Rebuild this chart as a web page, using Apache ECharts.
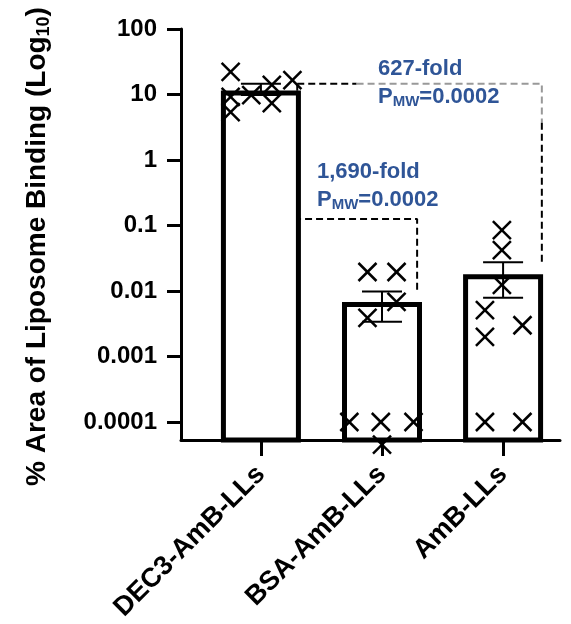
<!DOCTYPE html>
<html>
<head>
<meta charset="utf-8">
<script src="https://cdn.jsdelivr.net/npm/echarts@6/dist/echarts.min.js"></script>
<style>
html, body { margin: 0; padding: 0; background: #fff; }
#chart { width: 571px; height: 624px; }
</style>
</head>
<body>
<div id="chart"></div>
<script>
// 数据
var categories = ['DEC3-AmB-LLs', 'BSA-AmB-LLs', 'AmB-LLs'];
var means = [10.5, 0.0062, 0.0165];
var errLow = [9.8, 0.0034, 0.0079];
var errHigh = [14.6, 0.0098, 0.0274];

var dec3Values = [22.1, 9.2, 5.4, 9.8, 14.0, 7.4, 16.6];
var dec3Jitter = [-0.25, -0.25, -0.25, -0.08, 0.09, 0.09, 0.26];
var bsaValues = [0.0195, 0.0195, 0.0068, 0.0039, 0.0001, 0.0001, 0.0001, 0.000045];
var bsaJitter = [-0.12, 0.12, 0.12, -0.12, -0.27, -0.01, 0.26, 0.0];
var ambValues = [0.085, 0.042, 0.0124, 0.0051, 0.0030, 0.0020, 0.0001, 0.0001];
var ambJitter = [-0.01, -0.01, -0.01, -0.15, 0.16, -0.15, -0.15, 0.16];

var yTicks = [0.0001, 0.001, 0.01, 0.1, 1, 10, 100];
var yTickLabels = ['0.0001', '0.001', '0.01', '0.1', '1', '10', '100'];
var yMin = 0.0000531;

// 比较括号 (x 为类别序号, y 为数值)
var bracketTopBlack = [[0.30, 14.6], [0.79, 14.6]];
var bracketTopGrey = [[0.79, 14.6], [2.32, 14.6], [2.32, 3.7]];
var bracketTopRight = [[2.32, 3.7], [2.32, 0.0274]];
var bracketLow = [[0.30, 14.6], [0.30, 0.126], [1.29, 0.126], [1.29, 0.0098]];

var blue = '#2f5597';
var font = '"Liberation Sans", Arial, sans-serif';

var points = [];
[[dec3Values, dec3Jitter], [bsaValues, bsaJitter], [ambValues, ambJitter]].forEach(function (g, i) {
	g[0].forEach(function (v, k) {
		points.push([i + g[1][k], v]);
	});
});

function tickLabel(v) {
	var best = 0;
	for (var i = 1; i < yTicks.length; i++) {
		if (Math.abs(Math.log10(yTicks[i]) - Math.log10(v)) < Math.abs(Math.log10(yTicks[best]) - Math.log10(v))) best = i;
	}
	return yTickLabels[best];
}

function dashed(data, color) {
	return {
		type: 'line',
		data: data,
		showSymbol: false,
		silent: true,
		z: 5,
		lineStyle: { color: color, width: 2, type: [7, 4] }
	};
}

var myChart = echarts.init(document.getElementById('chart'));

var option = {
	animation: false,
	grid: { left: 181, right: 11, top: 29, bottom: 184 },
	xAxis: {
		type: 'value',
		min: -0.66,
		max: 2.47,
		splitLine: { show: false },
		axisLine: { show: true, onZero: false, lineStyle: { color: '#000', width: 3 } },
		axisTick: { show: true, length: 16, lineStyle: { color: '#000', width: 3 }, customValues: [0, 1, 2] },
		axisLabel: {
			customValues: [0, 1, 2],
			rotate: 45,
			margin: 30,
			color: '#000',
			fontSize: 27,
			fontWeight: 'bold',
			fontFamily: font,
			formatter: function (v) { return categories[Math.round(v)]; }
		}
	},
	yAxis: {
		type: 'log',
		logBase: 10,
		min: yMin,
		max: 100,
		splitLine: { show: false },
		axisLine: { show: true, onZero: false, lineStyle: { color: '#000', width: 3 } },
		axisTick: { show: true, length: 14, lineStyle: { color: '#000', width: 3 }, customValues: yTicks },
		axisLabel: {
			customValues: yTicks,
			margin: 24,
			color: '#000',
			fontSize: 24,
			fontWeight: 'bold',
			fontFamily: font,
			formatter: tickLabel
		},
		name: '{a|% Area of Liposome Binding (Log}{s|10}{a|)}',
		nameLocation: 'middle',
		nameRotate: 90,
		nameGap: 128,
		nameTextStyle: {
			padding: [0, 24, 0, 0],
			rich: {
				a: { fontSize: 28, fontWeight: 'bold', fontFamily: font, color: '#000', lineHeight: 32 },
				s: { fontSize: 18, fontWeight: 'bold', fontFamily: font, color: '#000', verticalAlign: 'bottom', lineHeight: 26 }
			}
		}
	},
	graphic: [
		{ type: 'text', left: 378, top: 58, style: { text: '627-fold', fill: blue, font: 'bold 22px ' + font } },
		{ type: 'text', left: 378, top: 86, style: {
			text: '{p|P}{s|MW}{p|=0.0002}',
			rich: {
				p: { fill: blue, fontSize: 22, fontWeight: 'bold', fontFamily: font, lineHeight: 24 },
				s: { fill: blue, fontSize: 15, fontWeight: 'bold', fontFamily: font, lineHeight: 24, verticalAlign: 'bottom' }
			}
		} },
		{ type: 'text', left: 317, top: 161, style: { text: '1,690-fold', fill: blue, font: 'bold 22px ' + font } },
		{ type: 'text', left: 317, top: 189, style: {
			text: '{p|P}{s|MW}{p|=0.0002}',
			rich: {
				p: { fill: blue, fontSize: 22, fontWeight: 'bold', fontFamily: font, lineHeight: 24 },
				s: { fill: blue, fontSize: 15, fontWeight: 'bold', fontFamily: font, lineHeight: 24, verticalAlign: 'bottom' }
			}
		} }
	],
	series: [
		{
			// 柱
			type: 'custom',
			z: 2,
			data: means.map(function (m, i) { return [i, m]; }),
			renderItem: function (params, api) {
				var top = api.coord([api.value(0), api.value(1)]);
				var bottom = api.coord([api.value(0), yMin]);
				var w = 75;
				return {
					type: 'rect',
					shape: { x: top[0] - w / 2, y: top[1], width: w, height: bottom[1] - top[1] },
					style: { fill: '#fff', stroke: '#000', lineWidth: 5 }
				};
			}
		},
		{
			// 误差线
			type: 'custom',
			z: 3,
			data: means.map(function (m, i) { return [i, errLow[i], errHigh[i]]; }),
			renderItem: function (params, api) {
				var lo = api.coord([api.value(0), api.value(1)]);
				var hi = api.coord([api.value(0), api.value(2)]);
				var c = 20;
				var st = { stroke: '#000', lineWidth: 2 };
				return {
					type: 'group',
					children: [
						{ type: 'line', shape: { x1: lo[0], y1: lo[1], x2: hi[0], y2: hi[1] }, style: st },
						{ type: 'line', shape: { x1: hi[0] - c, y1: hi[1], x2: hi[0] + c, y2: hi[1] }, style: st },
						{ type: 'line', shape: { x1: lo[0] - c, y1: lo[1], x2: lo[0] + c, y2: lo[1] }, style: st }
					]
				};
			}
		},
		{
			// 散点 X
			type: 'custom',
			z: 4,
			data: points,
			renderItem: function (params, api) {
				var p = api.coord([api.value(0), api.value(1)]);
				var h = 9;
				var st = { stroke: '#000', lineWidth: 2.5 };
				return {
					type: 'group',
					children: [
						{ type: 'line', shape: { x1: p[0] - h, y1: p[1] - h, x2: p[0] + h, y2: p[1] + h }, style: st },
						{ type: 'line', shape: { x1: p[0] - h, y1: p[1] + h, x2: p[0] + h, y2: p[1] - h }, style: st }
					]
				};
			}
		},
		dashed(bracketTopBlack, '#000'),
		dashed(bracketTopGrey, '#999'),
		dashed(bracketTopRight, '#000'),
		dashed(bracketLow, '#000')
	]
};

myChart.setOption(option);
</script>
</body>
</html>
